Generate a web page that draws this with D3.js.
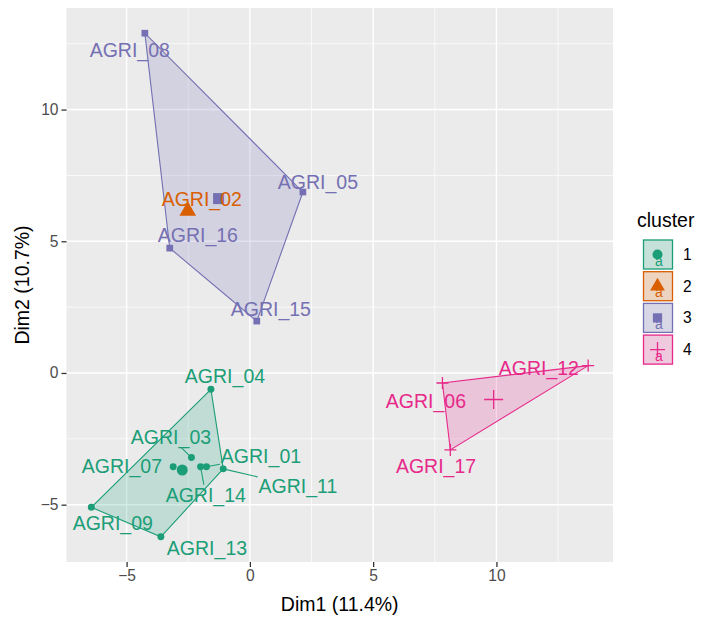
<!DOCTYPE html>
<html>
<head>
<meta charset="utf-8">
<script src="https://cdn.jsdelivr.net/npm/d3@7/dist/d3.min.js"></script>
<style>
  body { margin: 0; background: #fff; }
  svg { display: block; font-family: "Liberation Sans", Arial, sans-serif; }
</style>
</head>
<body>
<svg width="703" height="617"></svg>
<script>
// the data
var names = ['AGRI_01', 'AGRI_02', 'AGRI_03', 'AGRI_04', 'AGRI_05', 'AGRI_06', 'AGRI_07', 'AGRI_08',
  'AGRI_09', 'AGRI_11', 'AGRI_12', 'AGRI_13', 'AGRI_14', 'AGRI_15', 'AGRI_16', 'AGRI_17'];
var dim1 = [-1.76, -2.52, -2.37, -1.58, 2.15, 7.81, -3.11, -4.26,
  -6.43, -1.08, 13.72, -3.61, -2.0, 0.28, -3.25, 8.13];
var dim2 = [-3.56, 6.15, -3.21, -0.62, 6.87, -0.38, -3.56, 12.9,
  -5.10, -3.64, 0.28, -6.22, -3.56, 1.97, 4.74, -2.92];
var cluster = [1, 2, 1, 1, 3, 4, 1, 3, 1, 1, 4, 1, 1, 3, 3, 4];
// where the repelled labels ended up (data units)
var labelDim1 = [0.45, -1.95, -3.2, -1.01, 2.76, 7.14, -5.19, -4.87,
  -5.56, 1.95, 11.72, -1.74, -1.79, 0.85, -2.11, 7.55];
var labelDim2 = [-3.15, 6.6, -2.43, -0.11, 7.25, -1.06, -3.53, 12.26,
  -5.69, -4.29, 0.19, -6.64, -4.63, 2.43, 5.24, -3.53];
var leaders = ['AGRI_01', 'AGRI_03', 'AGRI_11', 'AGRI_14'];

var clusters = ['1', '2', '3', '4'];
var colors = ['#1B9E77', '#D95F02', '#7570B3', '#E7298A'];
var xTicks = [-5, 0, 5, 10];
var yTicks = [-5, 0, 5, 10];
var xMinor = [-7.5, -2.5, 2.5, 7.5, 12.5];
var yMinor = [-7.5, -2.5, 2.5, 7.5, 12.5];

var svg = d3.select('svg');
var panel = { left: 66.5, right: 613, top: 8, bottom: 562 };
var font = '"Liberation Sans", Arial, sans-serif';

var pts = names.map(function (n, i) {
  return { name: n, x: dim1[i], y: dim2[i], k: cluster[i], lx: labelDim1[i], ly: labelDim2[i] };
});

// ggplot style 5% expansion
function expand(ext) {
  var r = ext[1] - ext[0];
  return [ext[0] - r * 0.05, ext[1] + r * 0.05];
}
var x = d3.scaleLinear()
  .domain(expand(d3.extent(dim1)))
  .range([panel.left, panel.right]);
var y = d3.scaleLinear()
  .domain(expand(d3.extent(dim2)))
  .range([panel.bottom, panel.top]);

svg.append('rect').attr('width', 703).attr('height', 617).attr('fill', '#fff');

// panel + grid
svg.append('rect')
  .attr('x', panel.left).attr('y', panel.top)
  .attr('width', panel.right - panel.left).attr('height', panel.bottom - panel.top)
  .attr('fill', '#EBEBEB');

var grid = svg.append('g').attr('stroke', '#fff');
function inX(v) { return x(v) >= panel.left && x(v) <= panel.right; }
function inY(v) { return y(v) >= panel.top && y(v) <= panel.bottom; }
grid.selectAll('.xmin').data(xMinor.filter(inX)).enter().append('line')
  .attr('x1', x).attr('x2', x).attr('y1', panel.top).attr('y2', panel.bottom).attr('stroke-width', 0.7);
grid.selectAll('.ymin').data(yMinor.filter(inY)).enter().append('line')
  .attr('y1', y).attr('y2', y).attr('x1', panel.left).attr('x2', panel.right).attr('stroke-width', 0.7);
grid.selectAll('.xmaj').data(xTicks).enter().append('line')
  .attr('x1', x).attr('x2', x).attr('y1', panel.top).attr('y2', panel.bottom).attr('stroke-width', 1.4);
grid.selectAll('.ymaj').data(yTicks).enter().append('line')
  .attr('y1', y).attr('y2', y).attr('x1', panel.left).attr('x2', panel.right).attr('stroke-width', 1.4);

// hulls
clusters.forEach(function (c, ci) {
  var members = pts.filter(function (d) { return d.k === ci + 1; });
  if (members.length < 3) return;
  var hull = d3.polygonHull(members.map(function (d) { return [x(d.x), y(d.y)]; }));
  svg.append('path')
    .attr('d', 'M' + hull.join('L') + 'Z')
    .attr('fill', colors[ci])
    .attr('fill-opacity', 0.2)
    .attr('stroke', colors[ci])
    .attr('stroke-width', 1.1);
});

// shapes: circle, triangle, square, plus  (scale 0 = point, 1 = legend, 2 = center)
function drawShape(g, ci, cx, cy, scale) {
  var col = colors[ci];
  if (ci === 3) {
    var a = [6, 7.5, 9.5][scale];
    g.append('path')
      .attr('d', 'M' + (cx - a) + ',' + cy + 'H' + (cx + a) + 'M' + cx + ',' + (cy - a) + 'V' + (cy + a))
      .attr('stroke', col).attr('stroke-width', 1.3).attr('fill', 'none');
    return;
  }
  var type = [d3.symbolCircle, d3.symbolTriangle, d3.symbolSquare][ci];
  var size = [[38, 45, 45], [80, 95, 85], [95, 120, 121]][scale][ci];
  g.append('path')
    .attr('d', d3.symbol().type(type).size(size)())
    .attr('transform', 'translate(' + cx + ',' + cy + ')')
    .attr('fill', col);
}

var pointsG = svg.append('g');
pts.forEach(function (d) {
  drawShape(pointsG, d.k - 1, x(d.x), y(d.y), 0);
});

// centers
var centersG = svg.append('g');
clusters.forEach(function (c, ci) {
  var members = pts.filter(function (d) { return d.k === ci + 1; });
  var mx = d3.mean(members, function (d) { return d.x; });
  var my = d3.mean(members, function (d) { return d.y; });
  drawShape(centersG, ci, x(mx), y(my), 2);
});

// labels and leader lines
var segG = svg.append('g');
var labG = svg.append('g');
pts.forEach(function (d) {
  var t = labG.append('text')
    .attr('x', x(d.lx)).attr('y', y(d.ly))
    .attr('dy', '0.35em')
    .attr('text-anchor', 'middle')
    .attr('font-size', 19.5)
    .attr('fill', colors[d.k - 1])
    .text(d.name);
  if (leaders.indexOf(d.name) < 0) return;
  var bb = t.node().getBBox();
  var cx = bb.x + bb.width / 2, cy = bb.y + bb.height / 2;
  var px = x(d.x), py = y(d.y);
  var dx = px - cx, dy = py - cy;
  var tx = dx ? (bb.width / 2 + 1) / Math.abs(dx) : Infinity;
  var ty = dy ? (bb.height / 2 - 1) / Math.abs(dy) : Infinity;
  var s = Math.min(tx, ty);
  segG.append('line')
    .attr('x1', cx + dx * s).attr('y1', cy + dy * s)
    .attr('x2', px).attr('y2', py)
    .attr('stroke', colors[d.k - 1])
    .attr('stroke-width', 1.1);
});

// axes
var xAxis = svg.append('g')
  .attr('transform', 'translate(0,' + panel.bottom + ')')
  .call(d3.axisBottom(x).tickValues(xTicks).tickSize(5).tickPadding(3));
var yAxis = svg.append('g')
  .attr('transform', 'translate(' + panel.left + ',0)')
  .call(d3.axisLeft(y).tickValues(yTicks).tickSize(5).tickPadding(3));
[xAxis, yAxis].forEach(function (a) {
  a.select('.domain').remove();
  a.selectAll('line').attr('stroke', '#333').attr('stroke-width', 1.3);
  a.selectAll('text').attr('fill', '#4D4D4D').attr('font-size', 15.6).attr('font-family', font);
});

svg.append('text')
  .attr('x', (panel.left + panel.right) / 2).attr('y', 611)
  .attr('text-anchor', 'middle').attr('font-size', 19.5).attr('fill', '#000')
  .text('Dim1 (11.4%)');
svg.append('text')
  .attr('transform', 'translate(29,' + (panel.top + panel.bottom) / 2 + ') rotate(-90)')
  .attr('text-anchor', 'middle').attr('font-size', 19.5).attr('fill', '#000')
  .text('Dim2 (10.7%)');

// legend
var legend = svg.append('g').attr('transform', 'translate(637,0)');
legend.append('text').attr('x', 0).attr('y', 227).attr('font-size', 19.5).text('cluster');
clusters.forEach(function (c, ci) {
  var top = 239.5 + ci * 31.7;
  var g = legend.append('g');
  g.append('rect').attr('x', 6).attr('y', top).attr('width', 30).attr('height', 30).attr('fill', '#F2F2F2');
  g.append('rect').attr('x', 6.5).attr('y', top + 0.5).attr('width', 29).attr('height', 29)
    .attr('fill', colors[ci]).attr('fill-opacity', 0.2)
    .attr('stroke', colors[ci]).attr('stroke-width', 1.3);
  g.append('text').attr('x', 22).attr('y', top + 26)
    .attr('text-anchor', 'middle').attr('font-size', 14).attr('fill', colors[ci]).text('a');
  drawShape(g, ci, 20.5, top + 15, 1);
  legend.append('text').attr('x', 46).attr('y', top + 15).attr('dy', '0.35em')
    .attr('font-size', 15.6).attr('fill', '#000').text(c);
});
</script>
</body>
</html>
